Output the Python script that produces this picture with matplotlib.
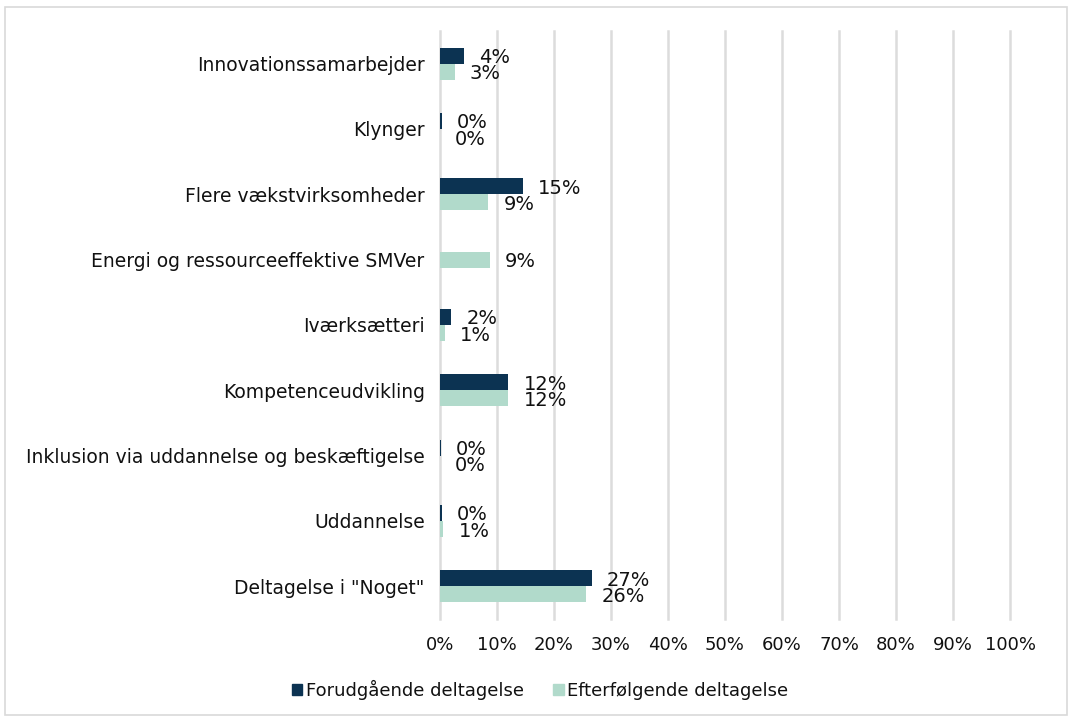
import numpy as np
import matplotlib.pyplot as plt
from matplotlib.patches import Rectangle

categories = ['Innovationssamarbejder', 'Klynger', 'Flere vækstvirksomheder',
              'Energi og ressourceeffektive SMVer', 'Iværksætteri',
              'Kompetenceudvikling', 'Inklusion via uddannelse og beskæftigelse',
              'Uddannelse', 'Deltagelse i "Noget"']
# percent values (nan = no bar for that series)
forud = [4.2, 0.3, 14.5, np.nan, 2.0, 12.0, 0.1, 0.3, 26.6]
efter = [2.6, 0.0, 8.5, 8.7, 0.8, 12.0, 0.0, 0.6, 25.7]
series_names = ['Forudgående deltagelse', 'Efterfølgende deltagelse']
colors = ['#0c3352', '#b1dacb']
xticks = np.arange(0, 101, 10)

txt = '#111111'
fs = 13

fig = plt.figure(figsize=(10.72, 7.2), dpi=100)
fig.patches.append(Rectangle((5 / 1072, 5 / 720), 1062 / 1072, 708 / 720,
                             transform=fig.transFigure, fill=False,
                             edgecolor='#d9d9d9', lw=1.2))
ax = fig.add_axes([440 / 1072, 1 - 619 / 720, 570 / 1072, 588 / 720])

h = 0.245
y = np.arange(len(categories))
for i in range(len(categories)):
    vals = [forud[i], efter[i]]
    present = [k for k in range(2) if not np.isnan(vals[k])]
    for k in present:
        if len(present) == 2:
            yy = y[i] - h / 2 if k == 0 else y[i] + h / 2
        else:
            yy = y[i]
        ax.barh(yy, vals[k], height=h, color=colors[k], zorder=3)
        lab = '%d%%' % int(np.floor(vals[k] + 0.5))
        ax.annotate(lab, (vals[k], yy), xytext=(15, -2), textcoords='offset pixels',
                    ha='left', va='center', fontsize=14, color=txt, zorder=4)

ax.set_ylim(len(categories) - 0.5, -0.5)
ax.set_xlim(0, 100)
ax.set_yticks(y)
ax.set_yticklabels(categories)
ax.set_xticks(xticks)
ax.set_xticklabels(['%d%%' % t for t in xticks])
ax.tick_params(axis='both', length=0, labelsize=fs, colors=txt)
ax.tick_params(axis='y', pad=11, labelsize=13.5)
ax.tick_params(axis='x', pad=12)
for s in ax.spines.values():
    s.set_visible(False)
ax.grid(axis='x', color='#dcdcdc', lw=1.8, zorder=0)
for gl in ax.get_xgridlines():
    gl.set_clip_on(False)
ax.set_axisbelow(True)

handles = [Rectangle((0, 0), 1, 1, color=c) for c in colors]
fig.legend(handles, series_names, loc='center', bbox_to_anchor=(540 / 1072, 1 - 690 / 720),
           ncol=2, frameon=False, fontsize=fs, handlelength=0.6, handleheight=0.6,
           handletextpad=0.2, columnspacing=1.6, labelcolor=txt)

fig.savefig('out.png', dpi=100)
